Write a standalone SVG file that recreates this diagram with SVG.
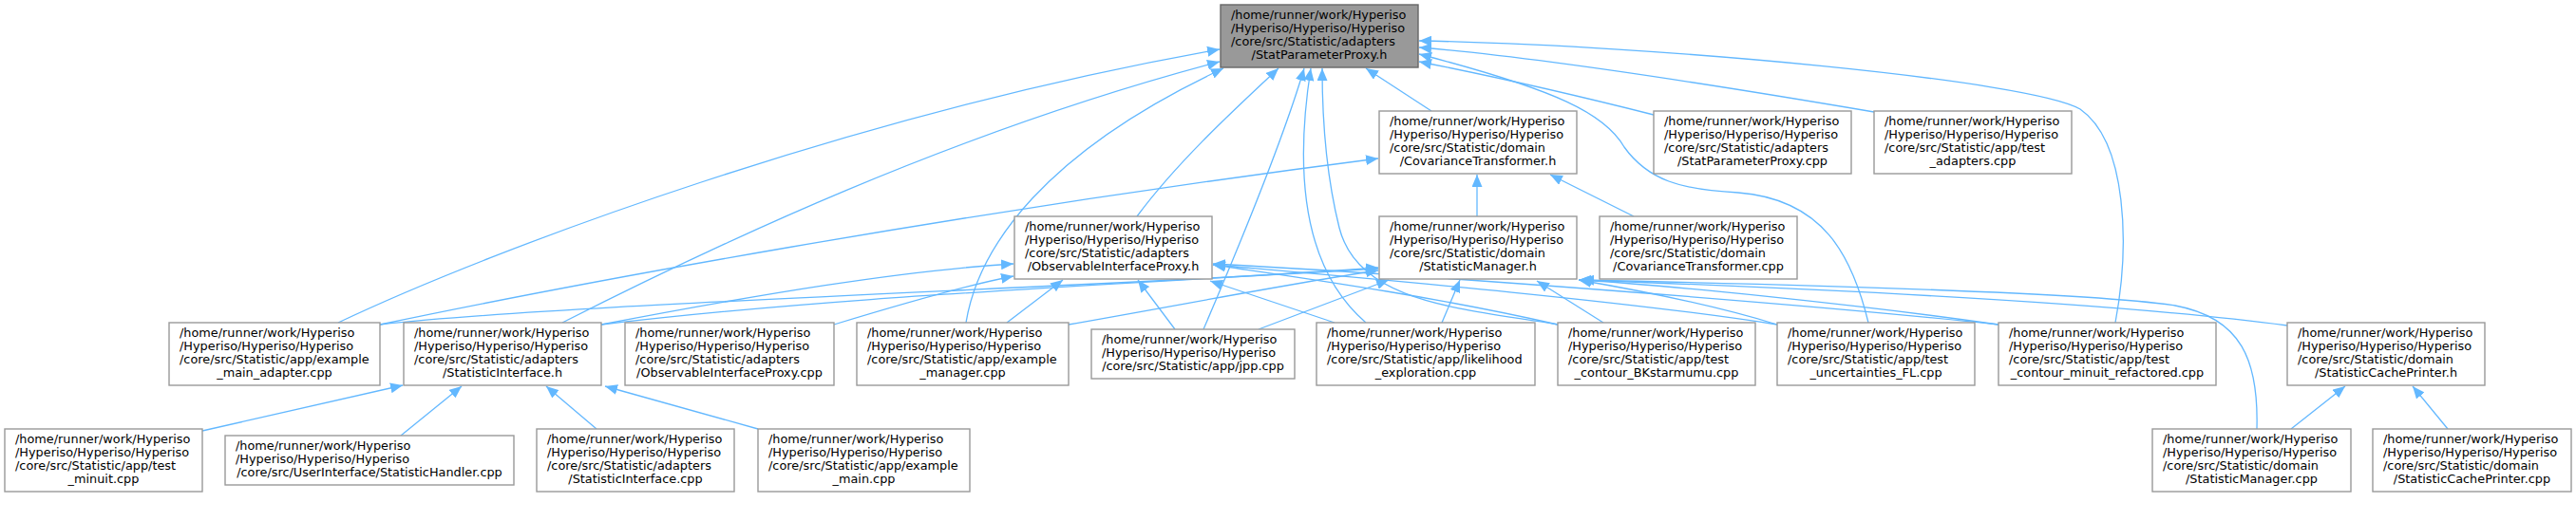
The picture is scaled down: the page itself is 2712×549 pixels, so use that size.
<svg xmlns="http://www.w3.org/2000/svg" width="2712" height="549" viewBox="0 0 2712 549">
<defs>
<marker id="ah" markerWidth="14" markerHeight="11" refX="13" refY="5.5" orient="auto" markerUnits="userSpaceOnUse"><path d="M0,0 L13,5.5 L0,11 z" fill="#63b8ff"/></marker>
<style>
.node rect{fill:#ffffff;stroke:#999999;stroke-width:1.4}
.node text{font-family:"DejaVu Sans",sans-serif;font-size:12.85px;fill:#000000}
.root rect{fill:#999999;stroke:#666666}
.c{text-anchor:middle}
.edges path{fill:none;stroke:#63b8ff;stroke-width:1.3;marker-end:url(#ah)}
</style>
</defs>
<rect width="2712" height="549" fill="#ffffff"/>
<g id="edges" class="edges">
<path d="M356,340 C520,262 900,120 1284,52"/>
<path d="M592,340 C750,260 1000,140 1284,65"/>
<path d="M1017,340 C1030,260 1100,160 1288,72"/>
<path d="M1197,228 C1240,170 1300,115 1346,72"/>
<path d="M1267,347 C1300,270 1350,150 1373,72"/>
<path d="M1438,340 C1380,290 1360,200 1380,72"/>
<path d="M1640,342 C1540,325 1430,320 1410,240 C1395,180 1392,120 1392,72"/>
<path d="M1507,117 L1438,72"/>
<path d="M1741,121 C1650,98 1560,78 1494,65"/>
<path d="M1973,118 C1820,92 1620,60 1494,50"/>
<path d="M2227,340 C2242,260 2240,150 2190,115 C2140,85 1750,48 1494,43"/>
<path d="M1967,340 C1950,270 1920,210 1830,203 C1770,200 1735,190 1710,155 C1690,120 1640,95 1494,57"/>
<path d="M1555,228 L1555,184"/>
<path d="M1720,228 L1632,184"/>
<path d="M400,342 C600,300 1000,225 1451,167"/>
<path d="M878,342 C950,320 1020,300 1067,291"/>
<path d="M633,342 C800,310 950,285 1067,278"/>
<path d="M1060,340 L1119,295"/>
<path d="M1237,347 L1198,295"/>
<path d="M1405,340 L1274,296"/>
<path d="M1640,342 C1500,310 1350,290 1277,279"/>
<path d="M1871,342 C1700,315 1400,290 1277,279"/>
<path d="M2104,342 C1900,320 1500,290 1277,278"/>
<path d="M633,342 C900,310 1200,300 1451,282"/>
<path d="M400,342 C600,320 1100,305 1451,283"/>
<path d="M1125,342 C1250,320 1380,295 1451,285"/>
<path d="M1325,347 L1462,295"/>
<path d="M1518,340 L1537,295"/>
<path d="M1688,340 L1618,296"/>
<path d="M1871,342 C1800,320 1720,305 1662,295"/>
<path d="M2104,342 C1950,320 1750,300 1662,295"/>
<path d="M2408,343 C2200,315 1800,300 1662,295"/>
<path d="M2376,452 C2378,380 2360,335 2290,322 C2200,308 1900,300 1665,295"/>
<path d="M213,454 L424,406"/>
<path d="M422,459 L486,407"/>
<path d="M628,452 L575,407"/>
<path d="M798,452 L637,407"/>
<path d="M2412,452 L2469,407"/>
<path d="M2577,452 L2540,407"/>
</g>
<g id="root" class="node root"><rect x="1285" y="5" width="208" height="66"/><text><tspan x="1296" y="20">/home/runner/work/Hyperiso</tspan><tspan x="1296" y="34">/Hyperiso/Hyperiso/Hyperiso</tspan><tspan x="1296" y="48">/core/src/Statistic/adapters</tspan><tspan class="c" x="1389" y="62">/StatParameterProxy.h</tspan></text></g>
<g id="covt_h" class="node"><rect x="1452" y="117" width="208" height="66"/><text><tspan x="1463" y="132">/home/runner/work/Hyperiso</tspan><tspan x="1463" y="146">/Hyperiso/Hyperiso/Hyperiso</tspan><tspan x="1463" y="160">/core/src/Statistic/domain</tspan><tspan class="c" x="1556" y="174">/CovarianceTransformer.h</tspan></text></g>
<g id="spp_cpp" class="node"><rect x="1741" y="117" width="208" height="66"/><text><tspan x="1752" y="132">/home/runner/work/Hyperiso</tspan><tspan x="1752" y="146">/Hyperiso/Hyperiso/Hyperiso</tspan><tspan x="1752" y="160">/core/src/Statistic/adapters</tspan><tspan class="c" x="1845" y="174">/StatParameterProxy.cpp</tspan></text></g>
<g id="test_adapters" class="node"><rect x="1973" y="117" width="208" height="66"/><text><tspan x="1984" y="132">/home/runner/work/Hyperiso</tspan><tspan x="1984" y="146">/Hyperiso/Hyperiso/Hyperiso</tspan><tspan x="1984" y="160">/core/src/Statistic/app/test</tspan><tspan class="c" x="2077" y="174">_adapters.cpp</tspan></text></g>
<g id="oip_h" class="node"><rect x="1068" y="228" width="208" height="66"/><text><tspan x="1079" y="243">/home/runner/work/Hyperiso</tspan><tspan x="1079" y="257">/Hyperiso/Hyperiso/Hyperiso</tspan><tspan x="1079" y="271">/core/src/Statistic/adapters</tspan><tspan class="c" x="1172" y="285">/ObservableInterfaceProxy.h</tspan></text></g>
<g id="sm_h" class="node"><rect x="1452" y="228" width="208" height="66"/><text><tspan x="1463" y="243">/home/runner/work/Hyperiso</tspan><tspan x="1463" y="257">/Hyperiso/Hyperiso/Hyperiso</tspan><tspan x="1463" y="271">/core/src/Statistic/domain</tspan><tspan class="c" x="1556" y="285">/StatisticManager.h</tspan></text></g>
<g id="covt_cpp" class="node"><rect x="1684" y="228" width="208" height="66"/><text><tspan x="1695" y="243">/home/runner/work/Hyperiso</tspan><tspan x="1695" y="257">/Hyperiso/Hyperiso/Hyperiso</tspan><tspan x="1695" y="271">/core/src/Statistic/domain</tspan><tspan class="c" x="1788" y="285">/CovarianceTransformer.cpp</tspan></text></g>
<g id="example_main_adapter" class="node"><rect x="178" y="340" width="222" height="66"/><text><tspan x="189" y="355">/home/runner/work/Hyperiso</tspan><tspan x="189" y="369">/Hyperiso/Hyperiso/Hyperiso</tspan><tspan x="189" y="383">/core/src/Statistic/app/example</tspan><tspan class="c" x="289" y="397">_main_adapter.cpp</tspan></text></g>
<g id="si_h" class="node"><rect x="425" y="340" width="208" height="66"/><text><tspan x="436" y="355">/home/runner/work/Hyperiso</tspan><tspan x="436" y="369">/Hyperiso/Hyperiso/Hyperiso</tspan><tspan x="436" y="383">/core/src/Statistic/adapters</tspan><tspan class="c" x="529" y="397">/StatisticInterface.h</tspan></text></g>
<g id="oip_cpp" class="node"><rect x="658" y="340" width="220" height="66"/><text><tspan x="669" y="355">/home/runner/work/Hyperiso</tspan><tspan x="669" y="369">/Hyperiso/Hyperiso/Hyperiso</tspan><tspan x="669" y="383">/core/src/Statistic/adapters</tspan><tspan class="c" x="768" y="397">/ObservableInterfaceProxy.cpp</tspan></text></g>
<g id="example_manager" class="node"><rect x="902" y="340" width="223" height="66"/><text><tspan x="913" y="355">/home/runner/work/Hyperiso</tspan><tspan x="913" y="369">/Hyperiso/Hyperiso/Hyperiso</tspan><tspan x="913" y="383">/core/src/Statistic/app/example</tspan><tspan class="c" x="1013.5" y="397">_manager.cpp</tspan></text></g>
<g id="jpp" class="node"><rect x="1149" y="347" width="214" height="52"/><text><tspan x="1160" y="362">/home/runner/work/Hyperiso</tspan><tspan x="1160" y="376">/Hyperiso/Hyperiso/Hyperiso</tspan><tspan class="c" x="1256" y="390">/core/src/Statistic/app/jpp.cpp</tspan></text></g>
<g id="likelihood" class="node"><rect x="1386" y="340" width="230" height="66"/><text><tspan x="1397" y="355">/home/runner/work/Hyperiso</tspan><tspan x="1397" y="369">/Hyperiso/Hyperiso/Hyperiso</tspan><tspan x="1397" y="383">/core/src/Statistic/app/likelihood</tspan><tspan class="c" x="1501" y="397">_exploration.cpp</tspan></text></g>
<g id="bkstarmumu" class="node"><rect x="1640" y="340" width="208" height="66"/><text><tspan x="1651" y="355">/home/runner/work/Hyperiso</tspan><tspan x="1651" y="369">/Hyperiso/Hyperiso/Hyperiso</tspan><tspan x="1651" y="383">/core/src/Statistic/app/test</tspan><tspan class="c" x="1744" y="397">_contour_BKstarmumu.cpp</tspan></text></g>
<g id="uncertainties" class="node"><rect x="1871" y="340" width="208" height="66"/><text><tspan x="1882" y="355">/home/runner/work/Hyperiso</tspan><tspan x="1882" y="369">/Hyperiso/Hyperiso/Hyperiso</tspan><tspan x="1882" y="383">/core/src/Statistic/app/test</tspan><tspan class="c" x="1975" y="397">_uncertainties_FL.cpp</tspan></text></g>
<g id="minuit_refactored" class="node"><rect x="2104" y="340" width="229" height="66"/><text><tspan x="2115" y="355">/home/runner/work/Hyperiso</tspan><tspan x="2115" y="369">/Hyperiso/Hyperiso/Hyperiso</tspan><tspan x="2115" y="383">/core/src/Statistic/app/test</tspan><tspan class="c" x="2218.5" y="397">_contour_minuit_refactored.cpp</tspan></text></g>
<g id="scp_h" class="node"><rect x="2408" y="340" width="208" height="66"/><text><tspan x="2419" y="355">/home/runner/work/Hyperiso</tspan><tspan x="2419" y="369">/Hyperiso/Hyperiso/Hyperiso</tspan><tspan x="2419" y="383">/core/src/Statistic/domain</tspan><tspan class="c" x="2512" y="397">/StatisticCachePrinter.h</tspan></text></g>
<g id="test_minuit" class="node"><rect x="5" y="452" width="208" height="66"/><text><tspan x="16" y="467">/home/runner/work/Hyperiso</tspan><tspan x="16" y="481">/Hyperiso/Hyperiso/Hyperiso</tspan><tspan x="16" y="495">/core/src/Statistic/app/test</tspan><tspan class="c" x="109" y="509">_minuit.cpp</tspan></text></g>
<g id="statistic_handler" class="node"><rect x="237" y="459" width="304" height="52"/><text><tspan x="248" y="474">/home/runner/work/Hyperiso</tspan><tspan x="248" y="488">/Hyperiso/Hyperiso/Hyperiso</tspan><tspan class="c" x="389" y="502">/core/src/UserInterface/StatisticHandler.cpp</tspan></text></g>
<g id="si_cpp" class="node"><rect x="565" y="452" width="208" height="66"/><text><tspan x="576" y="467">/home/runner/work/Hyperiso</tspan><tspan x="576" y="481">/Hyperiso/Hyperiso/Hyperiso</tspan><tspan x="576" y="495">/core/src/Statistic/adapters</tspan><tspan class="c" x="669" y="509">/StatisticInterface.cpp</tspan></text></g>
<g id="example_main" class="node"><rect x="798" y="452" width="223" height="66"/><text><tspan x="809" y="467">/home/runner/work/Hyperiso</tspan><tspan x="809" y="481">/Hyperiso/Hyperiso/Hyperiso</tspan><tspan x="809" y="495">/core/src/Statistic/app/example</tspan><tspan class="c" x="909.5" y="509">_main.cpp</tspan></text></g>
<g id="sm_cpp" class="node"><rect x="2266" y="452" width="209" height="66"/><text><tspan x="2277" y="467">/home/runner/work/Hyperiso</tspan><tspan x="2277" y="481">/Hyperiso/Hyperiso/Hyperiso</tspan><tspan x="2277" y="495">/core/src/Statistic/domain</tspan><tspan class="c" x="2370.5" y="509">/StatisticManager.cpp</tspan></text></g>
<g id="scp_cpp" class="node"><rect x="2498" y="452" width="209" height="66"/><text><tspan x="2509" y="467">/home/runner/work/Hyperiso</tspan><tspan x="2509" y="481">/Hyperiso/Hyperiso/Hyperiso</tspan><tspan x="2509" y="495">/core/src/Statistic/domain</tspan><tspan class="c" x="2602.5" y="509">/StatisticCachePrinter.cpp</tspan></text></g>
</svg>
